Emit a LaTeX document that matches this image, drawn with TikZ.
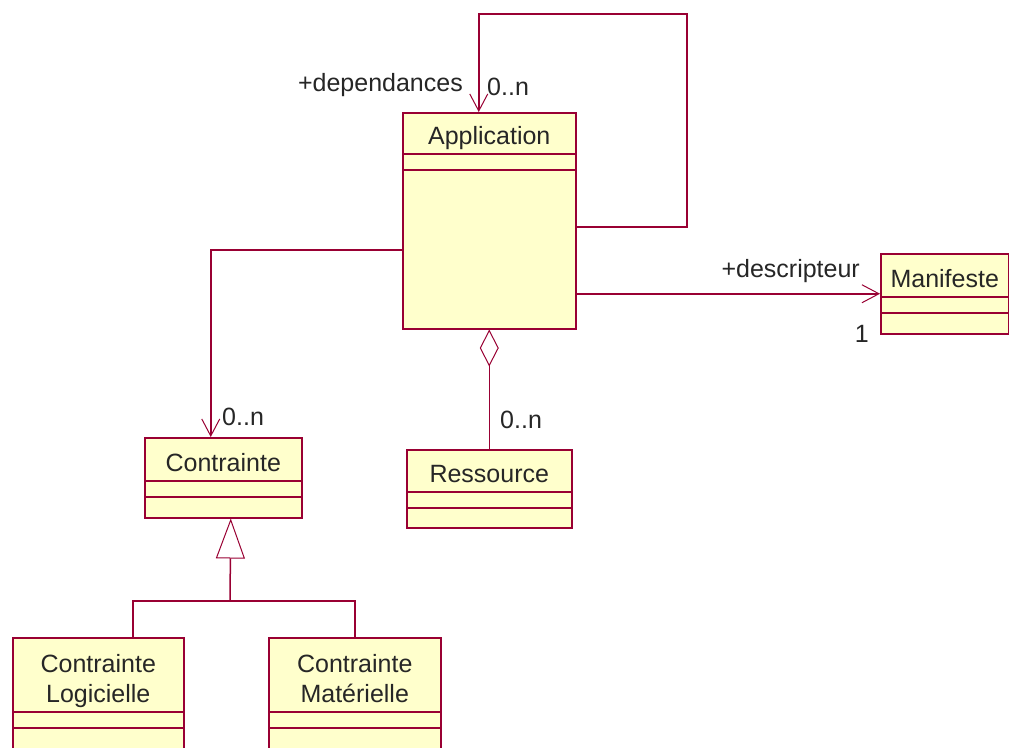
\documentclass[tikz,border=0pt]{standalone}
\usepackage{fontspec}
\setmainfont{Liberation Sans}
\usepackage{tikz}
\usetikzlibrary{arrows.meta}
\usetikzlibrary{calc}

\definecolor{umlred}{RGB}{153,0,51}
\definecolor{umlfill}{RGB}{255,255,204}

\newcommand{\umlclass}[7]{
    \node[classbox, minimum width=#3pt, minimum height={#4pt+#5pt+#6pt}] (#1) at #2 {};
    \node[classname] (#1-name) at ([yshift=-#4pt+10pt]#1.north) {#7};
    \draw[classline] ([yshift=-#4pt]#1.north west) -- ([yshift=-#4pt]#1.north east);
    \draw[classline] ([yshift=-#4pt-#5pt]#1.north west) -- ([yshift=-#4pt-#5pt]#1.north east);
}

\begin{document}
\begin{tikzpicture}[x=1pt, y=-1pt,
        classbox/.style={draw=umlred, fill=umlfill, line width=1.5pt, inner sep=0pt, anchor=north west},
        classline/.style={draw=umlred, line width=1.5pt},
        classname/.style={font=\fontsize{25}{30}\selectfont, align=center, text=black!85, inner sep=0pt, anchor=base},
        rolelabel/.style={font=\fontsize{25}{30}\selectfont, text=black!85, inner sep=0pt},
        assoc/.style={draw=umlred, line width=1.5pt},
        navarrow/.style={-{Straight Barb[length=17pt, width=18pt, line width=1pt]}},
        aggregation/.style={{Diamond[open, length=37pt, width=19pt, line width=1pt, fill=white]}-},
        generalization/.style={-{Triangle[open, length=40pt, width=29pt, line width=1pt, fill=white]}}]
    \path[fill=white] (0,0) rectangle (1009,747);
    \useasboundingbox (0,0) rectangle (1009,747);

    \umlclass{app}{(402,112)}{173}{42}{16}{158}{Application}
    \umlclass{man}{(880,253)}{128}{44}{16}{20}{Manifeste}
    \umlclass{con}{(144,437)}{157}{44}{16}{20}{Contrainte}
    \umlclass{res}{(406,449)}{165}{43}{16}{19}{Ressource}
    \umlclass{log}{(12,637)}{171}{75}{16}{30}{Contrainte\\Logicielle}
    \umlclass{mat}{(268,637)}{172}{75}{16}{30}{Contrainte\\Mat\'erielle}

    \draw[assoc, navarrow] ([yshift=-115pt]app.north east) -| (687,14) -| ([xshift=-10.5pt]app.north);
    \node[rolelabel, anchor=base east] (dep) at (463,91) {+dependances};
    \node[rolelabel, anchor=base west] (depmult) at (487,95) {0..n};

    \draw[assoc, navarrow] (app.east |- man.west) -- (man.west);
    \node[rolelabel, anchor=base east] (desc) at (860,277) {+descripteur};
    \node[rolelabel, anchor=base east] (descmult) at (869,342) {1};

    \draw[assoc, navarrow] ([yshift=-138pt]app.north west) -| ([xshift=-12.5pt]con.north);
    \node[rolelabel, anchor=base west] (conmult) at (222,425) {0..n};

    \draw[assoc, aggregation] (app.south) -- (res.north);
    \node[rolelabel, anchor=base west] (resmult) at (500,428) {0..n};

    \coordinate (gen) at (230,601);
    \draw[assoc, generalization] (gen) -- ([xshift=7.5pt]con.south);
    \draw[assoc] ([xshift=34.5pt]log.north) |- (gen) -| (mat.north);
\end{tikzpicture}
\end{document}
